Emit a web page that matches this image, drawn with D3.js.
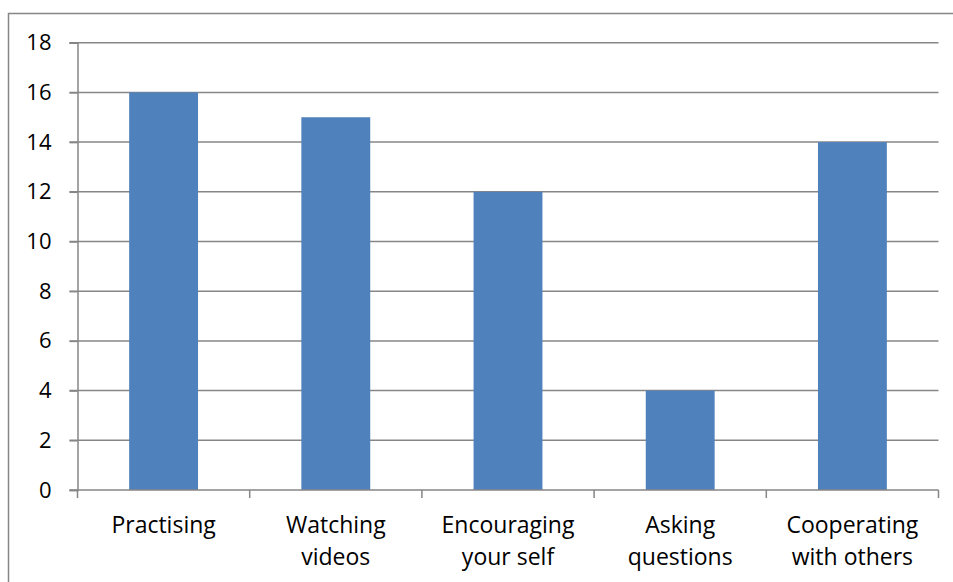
<!DOCTYPE html>
<html>
<head>
<meta charset="UTF-8">
<title>Bar</title>
<style>
  body { margin: 0; background: #fff; }
  text { font-family: 'Open Sans', sans-serif; fill: #000; }
</style>
</head>
<body>
<div id="app"></div>
<script src="https://d3js.org/d3.v7.min.js"></script>
<script>
  let categories = [['Practising'], ['Watching', 'videos'], ['Encouraging', 'your self'], ['Asking', 'questions'], ['Cooperating', 'with others']]
  let values = [16, 15, 12, 4, 14]
  let yTicks = [0, 2, 4, 6, 8, 10, 12, 14, 16, 18]

  let W = 953
  let H = 582
  let plotL = 77.5, plotR = 938.5, plotT = 42.7, plotB = 490
  let gray = '#868686'

  let svg = d3.select('#app').append('svg')
    .attr('width', W)
    .attr('height', H)

  // outer frame
  svg.append('rect')
    .attr('x', 8.5).attr('y', 13.5)
    .attr('width', W + 10).attr('height', H + 10)
    .attr('fill', 'none').attr('stroke', gray).attr('stroke-width', 1.5)

  let names = categories.map(d => d.join(' '))

  let x = d3.scaleBand()
    .domain(names)
    .range([plotL, plotR])
    .paddingInner(0.6)
    .paddingOuter(0.3)

  let y = d3.scaleLinear()
    .domain([0, 18])
    .range([plotB, plotT])

  // gridlines
  svg.append('g')
    .selectAll('line')
    .data(yTicks.filter(d => d > 0)).enter()
    .append('line')
    .attr('x1', plotL - 8).attr('x2', plotR)
    .attr('y1', d => y(d)).attr('y2', d => y(d))
    .attr('stroke', gray).attr('stroke-width', 1.5)

  // bars
  svg.append('g')
    .selectAll('rect')
    .data(values).enter()
    .append('rect')
    .attr('x', (d, i) => x(names[i]))
    .attr('width', x.bandwidth())
    .attr('y', d => y(d))
    .attr('height', d => y(0) - y(d))
    .attr('fill', '#4f81bd')

  // y axis
  let yAxis = svg.append('g')
    .attr('transform', 'translate(' + plotL + ',0)')
    .call(d3.axisLeft(y).tickValues(yTicks).tickSize(8).tickPadding(18))
  yAxis.select('.domain').attr('stroke', gray).attr('stroke-width', 1.5)
  yAxis.selectAll('.tick line').attr('stroke', gray).attr('stroke-width', 1.5)
  yAxis.selectAll('.tick text').attr('font-size', 22).attr('font-family', "'Open Sans', sans-serif").attr('fill', '#000')

  // x axis
  let step = x.step()
  let xb = svg.append('g')
  xb.append('line')
    .attr('x1', plotL - 8).attr('x2', plotR)
    .attr('y1', plotB).attr('y2', plotB)
    .attr('stroke', gray).attr('stroke-width', 1.5)
  let bounds = d3.range(names.length + 1).map(i => plotL + i * step)
  xb.selectAll('.bt')
    .data(bounds).enter()
    .append('line')
    .attr('x1', d => d).attr('x2', d => d)
    .attr('y1', plotB).attr('y2', plotB + 8)
    .attr('stroke', gray).attr('stroke-width', 1.5)

  let labels = xb.selectAll('.lab')
    .data(categories).enter()
    .append('text')
    .attr('text-anchor', 'middle')
    .attr('font-size', 23)
  labels.selectAll('tspan')
    .data((d, i) => d.map(s => ({ s: s, c: x(names[i]) + x.bandwidth() / 2 })))
    .enter().append('tspan')
    .attr('x', d => d.c)
    .attr('y', (d, j) => 533 + j * 32)
    .text(d => d.s)
</script>
</body>
</html>
